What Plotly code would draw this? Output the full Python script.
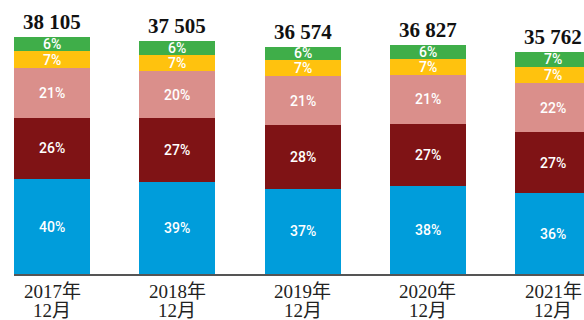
import plotly.graph_objects as go

period_year = ["2017年", "2018年", "2019年", "2020年", "2021年"]
period_month = ["12月", "12月", "12月", "12月", "12月"]
totals = [38105, 37505, 36574, 36827, 35762]

# share of each segment in the total, bottom to top
share_blue = [40, 39, 37, 38, 36]
share_darkred = [26, 27, 28, 27, 27]
share_pink = [21, 20, 21, 21, 22]
share_yellow = [7, 7, 7, 7, 7]
share_green = [6, 6, 6, 6, 7]

series = [
    (share_blue, "#009ddb"),
    (share_darkred, "#7f1315"),
    (share_pink, "#da8f8b"),
    (share_yellow, "#ffc20e"),
    (share_green, "#3fae49"),
]

x = list(range(len(totals)))
share_sums = [sum(s[0][i] for s in series) for i in x]

fig = go.Figure()
base = [0.0] * len(x)
for shares, color in series:
    heights = [totals[i] * shares[i] / share_sums[i] for i in x]
    fig.add_trace(go.Bar(
        x=x,
        y=heights,
        marker=dict(color=color, line=dict(width=0)),
        width=0.607,
        hoverinfo="skip",
    ))
    # percentage label centred in each segment
    for i in x:
        fig.add_annotation(
            x=i, y=base[i] + heights[i] / 2, text=f"{shares[i]}%",
            showarrow=False, yanchor="middle", borderpad=0,
            font=dict(family="Roboto", size=14, color="white", weight=500),
        )
        base[i] += heights[i]

# totals above the stacks
for i in x:
    fig.add_annotation(
        x=i, y=totals[i], text=f"<b>{totals[i]:,}</b>".replace(",", " "),
        showarrow=False, yanchor="bottom", yshift=1,
        font=dict(family="Liberation Serif", size=21, color="#111111"),
    )

# two-line category labels under the axis
label_font = dict(family="Liberation Serif, Noto Sans CJK SC", size=19, color="#222222")
for i in x:
    fig.add_annotation(x=i, y=0, yref="paper", text=period_year[i],
                       showarrow=False, yanchor="middle", yshift=-17, font=label_font)
    fig.add_annotation(x=i, y=0, yref="paper", text=period_month[i],
                       showarrow=False, yanchor="middle", yshift=-36, font=label_font)

fig.update_layout(
    barmode="stack",
    width=584, height=320,
    margin=dict(l=14, r=0, t=0, b=46),
    paper_bgcolor="white", plot_bgcolor="white",
    showlegend=False,
    xaxis=dict(
        range=[-0.3035, 4.246],
        showticklabels=False,
        showgrid=False, zeroline=False,
        showline=True, linecolor="#555555", linewidth=1.5,
        ticks="",
    ),
    yaxis=dict(range=[0, 44050], visible=False, showgrid=False, zeroline=False),
)

fig.write_html("out.html")
